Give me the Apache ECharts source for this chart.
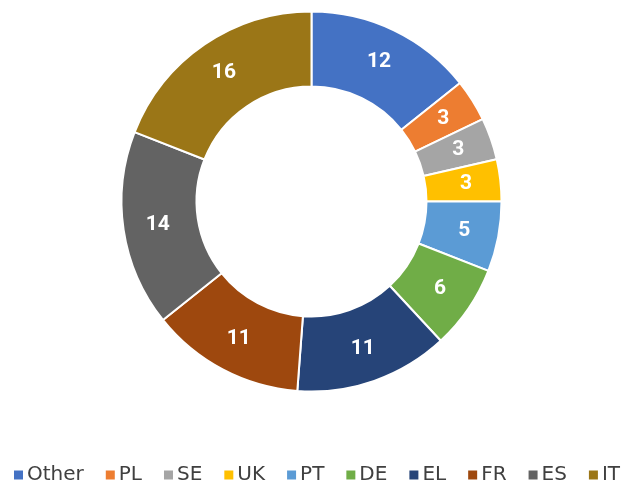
<!DOCTYPE html>
<html>
<head>
<meta charset="utf-8">
<script src="https://cdn.jsdelivr.net/npm/echarts@6/dist/echarts.min.js"></script>
<style>
  html, body { margin: 0; padding: 0; background: #fff; }
  #chart { width: 622px; height: 481px; }
</style>
</head>
<body>
<div id="chart"></div>
<script>
  // countries and their counts, clockwise from 12 o'clock
  const countries = ['Other', 'PL', 'SE', 'UK', 'PT', 'DE', 'EL', 'FR', 'ES', 'IT']
  const counts = [12, 3, 3, 3, 5, 6, 11, 11, 14, 16]
  const colors = ['#4472C4', '#ED7D31', '#A5A5A5', '#FFC000', '#5B9BD5', '#70AD47', '#264478', '#9E480E', '#636363', '#9B7617']

  let pieData = []
  for (let i = 0; i < countries.length; i++) {
    pieData.push({ name: countries[i], value: counts[i] })
  }

  let myChart = echarts.init(document.getElementById('chart'))
  myChart.setOption({
    backgroundColor: '#fff',
    animation: false,
    color: colors,
    legend: {
      top: 460,
      left: 12,
      width: 610,
      padding: [5, 0, 5, 0],
      itemWidth: 11,
      itemHeight: 11,
      itemGap: 20,
      icon: 'rect',
      textStyle: { fontFamily: 'DejaVu Sans', fontSize: 20, color: '#404040', padding: [0, 0, 0, -2] },
      data: countries
    },
    series: [
      {
        type: 'pie',
        center: [311.5, 201.5],
        radius: [115, 190],
        startAngle: 90,
        clockwise: true,
        data: pieData,
        itemStyle: { borderColor: '#fff', borderWidth: 2 },
        label: {
          position: 'inside',
          formatter: '{c}',
          color: '#fff',
          fontFamily: 'Roboto',
          fontSize: 21,
          fontWeight: 'bold'
        },
        labelLine: { show: false }
      }
    ]
  })
</script>
</body>
</html>
